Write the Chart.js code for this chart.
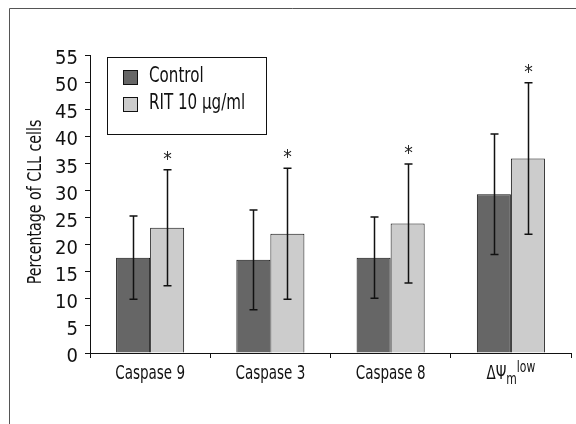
<!DOCTYPE html>
<html>
<head>
<meta charset="utf-8">
<script src="https://cdn.jsdelivr.net/npm/chart.js@4.4.1/dist/chart.umd.min.js"></script>
<style>
  html, body { margin: 0; padding: 0; background: #fff; }
  #wrap { position: relative; width: 576px; height: 424px; }
</style>
</head>
<body>
<div id="wrap"><canvas id="chart" width="576" height="424"></canvas></div>
<script>
// data
const categories = ['Caspase 9', 'Caspase 3', 'Caspase 8', 'dpsi'];
const controlValues = [17.6, 17.2, 17.6, 29.3];
const controlErr = [7.7, 9.2, 7.5, 11.1];
const ritValues = [23.1, 22.0, 23.9, 35.9];
const ritErr = [10.7, 12.1, 11.0, 14.0];
const significant = [true, true, true, true];
const yTitle = 'Percentage of CLL cells';

const FONT = '"DejaVu Sans Condensed", "Liberation Sans", sans-serif';
const SQUEEZE = 0.75;

// text squeezed horizontally to look like a condensed face
function narrowText(c, text, x, y, font, align, sx) {
  c.save();
  c.font = font;
  c.textAlign = align;
  c.translate(x, y);
  c.scale(sx || SQUEEZE, 1);
  c.fillText(text, 0, 0);
  c.restore();
}

// outer frame + white bg
const framePlugin = {
  id: 'frame',
  beforeDraw(chart) {
    const c = chart.ctx;
    c.save();
    c.fillStyle = '#fff';
    c.fillRect(0, 0, chart.width, chart.height);
    c.strokeStyle = '#555';
    c.lineWidth = 1;
    c.beginPath();
    c.moveTo(9.5, chart.height);
    c.lineTo(9.5, 8.5);
    c.lineTo(chart.width, 8.5);
    c.stroke();
    c.restore();
  }
};

// error bars + asterisks
const errorPlugin = {
  id: 'errbars',
  afterDatasetsDraw(chart) {
    const c = chart.ctx;
    const y = chart.scales.y;
    const errs = [controlErr, ritErr];
    c.save();
    c.strokeStyle = '#111';
    c.lineWidth = 1.5;
    chart.data.datasets.forEach((ds, di) => {
      const meta = chart.getDatasetMeta(di);
      meta.data.forEach((bar, i) => {
        const x = Math.round(bar.x) + 0.5;
        const top = y.getPixelForValue(ds.data[i] + errs[di][i]);
        const bot = y.getPixelForValue(ds.data[i] - errs[di][i]);
        c.beginPath();
        c.moveTo(x, top); c.lineTo(x, bot);
        c.moveTo(x - 4, top); c.lineTo(x + 4, top);
        c.moveTo(x - 4, bot); c.lineTo(x + 4, bot);
        c.stroke();
        if (di === 1 && significant[i]) {
          c.fillStyle = '#222';
          c.textBaseline = 'middle';
          narrowText(c, '*', x, top - 10, '19px ' + FONT, 'center', 1);
        }
      });
    });
    c.restore();
  }
};

// category labels (last one needs sub/superscript) + y title
const labelPlugin = {
  id: 'catlabels',
  afterDraw(chart) {
    const c = chart.ctx;
    const xs = chart.scales.x;
    const base = 379;
    c.save();
    c.fillStyle = '#111';
    c.textBaseline = 'alphabetic';
    categories.forEach((lab, i) => {
      const cx = xs.getPixelForValue(i);
      if (lab === 'dpsi') {
        const parts = [
          { t: 'ΔΨ', f: '20px ' + FONT, dy: 0 },
          { t: 'm', f: '16px ' + FONT, dy: 5 },
          { t: 'low', f: '16px ' + FONT, dy: -7 }
        ];
        let w = 0;
        parts.forEach(p => { c.font = p.f; p.w = c.measureText(p.t).width * SQUEEZE; w += p.w; });
        let x = cx - w / 2;
        parts.forEach(p => { narrowText(c, p.t, x, base + p.dy, p.f, 'left'); x += p.w; });
      } else {
        narrowText(c, lab, cx, base, '20px ' + FONT, 'center');
      }
    });
    // axis title
    const ya = chart.chartArea;
    c.save();
    c.translate(41, (ya.top + ya.bottom) / 2 - 2);
    c.rotate(-Math.PI / 2);
    c.textBaseline = 'alphabetic';
    narrowText(c, yTitle, 0, 0, '20px ' + FONT, 'center', 0.79);
    c.restore();
    c.restore();
  }
};

// legend box drawn inside the plot
const legendPlugin = {
  id: 'boxlegend',
  afterDraw(chart) {
    const c = chart.ctx;
    c.save();
    c.strokeStyle = '#111';
    c.lineWidth = 1;
    c.strokeRect(107.5, 57.5, 159, 77);
    c.textBaseline = 'middle';
    chart.data.datasets.forEach((ds, i) => {
      const yy = 77 + i * 27;
      c.fillStyle = ds.backgroundColor;
      c.fillRect(123, yy - 7, 14, 14);
      c.strokeRect(123.5, yy - 6.5, 14, 14);
      c.fillStyle = '#111';
      narrowText(c, ds.label, 149, yy, '21px ' + FONT, 'left', 0.8);
    });
    c.restore();
  }
};

new Chart(document.getElementById('chart'), {
  type: 'bar',
  data: {
    labels: categories,
    datasets: [
      { label: 'Control', data: controlValues, backgroundColor: '#666666', borderColor: '#111', borderWidth: 1 },
      { label: 'RIT 10 µg/ml', data: ritValues, backgroundColor: '#cccccc', borderColor: '#111', borderWidth: 1 }
    ]
  },
  options: {
    responsive: false,
    animation: false,
    layout: { padding: { top: 55, right: 5, left: 0, bottom: 0 } },
    categoryPercentage: 0.566,
    barPercentage: 1,
    plugins: { legend: { display: false }, tooltip: { enabled: false } },
    scales: {
      x: {
        grid: { drawOnChartArea: false, drawTicks: true, tickLength: 5, color: '#111', offset: true },
        border: { display: true, color: '#111', width: 1 },
        ticks: { display: false },
        afterFit(s) { s.height = 71; }
      },
      y: {
        min: 0, max: 55,
        grid: { drawOnChartArea: false, drawTicks: true, tickLength: 5, color: '#111' },
        border: { display: true, color: '#111', width: 1 },
        ticks: {
          stepSize: 5, autoSkip: false, color: '#111', padding: 7, labelOffset: 4,
          font: { family: FONT, size: 20 }
        },
        afterFit(s) { s.width = 90; }
      }
    }
  },
  plugins: [framePlugin, errorPlugin, labelPlugin, legendPlugin]
});
</script>
</body>
</html>
